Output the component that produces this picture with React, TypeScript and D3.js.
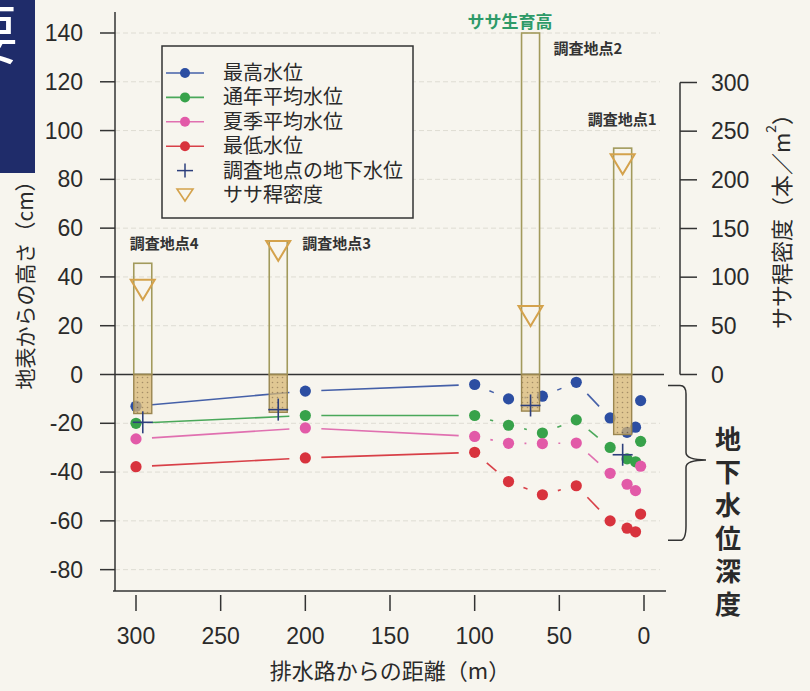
import React from 'react';
import * as d3 from 'd3';

// ---------- data ----------
const distances = [300, 200, 100, 80, 60, 40, 20, 10, 5, 2];
const maxLevel = [-13.0, -6.8, -4.1, -10.0, -8.9, -3.2, -17.8, -23.7, -21.6, -10.7];
const annualMean = [-20.0, -16.8, -16.8, -20.8, -24.0, -18.6, -29.9, -34.6, -35.8, -27.4];
const summerMean = [-26.4, -21.9, -25.4, -28.2, -28.3, -28.1, -40.5, -45.0, -47.6, -37.6];
const minLevel = [-37.8, -34.2, -31.9, -43.9, -49.3, -45.6, -60.0, -63.0, -64.5, -57.2];

const siteNames = ['調査地点1', '調査地点2', '調査地点3', '調査地点4'];
const siteDistances = [12.6, 67, 216, 296];
const sasaHeight = [92.8, 140, 54.7, 45.6];
const pipeDepth = [-24.6, -15.0, -15.5, -16.0];
const siteGroundwater = [-32.9, -12.7, -14.4, -19.6];
const culmDensity = [216, 60, 127, 87];

const yTicks = [140, 120, 100, 80, 60, 40, 20, 0, -20, -40, -60, -80];
const xTicks = [300, 250, 200, 150, 100, 50, 0];
const densityTicks = [0, 50, 100, 150, 200, 250, 300];

const seriesNames = ['最高水位', '通年平均水位', '夏季平均水位', '最低水位'];
const legendExtra = ['調査地点の地下水位', 'ササ稈密度'];

// ---------- styles ----------
const lineColors = ['#4560a8', '#4aa85a', '#e070b0', '#d84048'];
const dotColors = ['#2c4ea2', '#37a24a', '#e25aa8', '#d8333d'];
const CROSS = '#2d3f7c';
const TRI = '#d4a24c';
const OLIVE = '#a29a5c';
const TEXT = '#2a2a2a';
const BG = '#f7f5ee';
const FONT_JP = '"Noto Sans CJK JP", "Noto Sans", sans-serif';
const FONT_JP_TIGHT = '"DejaVu Sans", "Noto Sans CJK JP", sans-serif';
const FONT_NUM = '"Liberation Sans", Arial, "Noto Sans CJK JP", sans-serif';
const labelOffsets: [number, number][] = [
  [-35, -30],
  [23, 14],
  [24, 1.5],
  [-13, -21],
];

export default function App() {
  const W = 810, H = 691;
  const x = d3.scaleLinear().domain([300, 0]).range([136, 644]);
  const y = d3.scaleLinear().domain([0, 140]).range([374.5, 33]);
  const yd = d3.scaleLinear().domain([0, 300]).range([374.5, 82.5]);
  const axisX = 115, axisTop = 12, axisBottom = 591, plotRight = 664;
  const barW = 18;
  const gap = 16;

  const allSeries = [maxLevel, annualMean, summerMean, minLevel];

  const segments = (vals: number[], si: number) => {
    const out: any[] = [];
    for (let i = 0; i < vals.length - 1; i++) {
      const x0 = x(distances[i]), y0 = y(vals[i]);
      const x1 = x(distances[i + 1]), y1 = y(vals[i + 1]);
      const len = Math.hypot(x1 - x0, y1 - y0);
      if (len <= 2 * gap + 1) continue;
      const ux = (x1 - x0) / len, uy = (y1 - y0) / len;
      out.push(
        <line key={`s${si}-${i}`} x1={x0 + ux * gap} y1={y0 + uy * gap} x2={x1 - ux * gap} y2={y1 - uy * gap}
          stroke={lineColors[si]} strokeWidth={1.6}
          strokeDasharray={i >= 2 ? '40,6' : undefined} />
      );
    }
    return out;
  };

  const tri = (cx: number, cy: number, w: number, h: number) =>
    `M${cx - w / 2},${cy - h / 2}L${cx + w / 2},${cy - h / 2}L${cx},${cy + h / 2}Z`;

  const legendRows = [...seriesNames, ...legendExtra];
  const legY = (i: number) => 73 + i * 24.4;

  return (
    <svg width={W} height={H} style={{ position: 'absolute', left: 0, top: 0 }}
      xmlns="http://www.w3.org/2000/svg">
      <defs>
        <pattern id="dots" width="5" height="5" patternUnits="userSpaceOnUse">
          <rect width="5" height="5" fill="#d8b874" />
          <circle cx="2.5" cy="2.5" r="0.8" fill="#8a6a3a" />
        </pattern>
        <clipPath id="pageclip"><rect x="0" y="0" width="35" height="173" /></clipPath>
      </defs>
      <rect width={W} height={H} fill={BG} />

      {/* page header fragment */}
      <rect x={0} y={0} width={35} height={173} fill="#1f2c6a" />
      <g clipPath="url(#pageclip)">
        <text x={-46} y={58} fill="#fff" fontFamily={FONT_JP} fontSize={64}>要</text>
      </g>

      {/* grid */}
      {yTicks.filter(t => t !== 0).map(t => (
        <line key={`g${t}`} x1={axisX} x2={plotRight - 4} y1={y(t)} y2={y(t)}
          stroke="#dedcd3" strokeWidth={1} strokeDasharray="5,3" />
      ))}

      {/* zero line */}
      <line x1={axisX} x2={plotRight} y1={y(0)} y2={y(0)} stroke="#333" strokeWidth={1.5} />

      {/* left axis */}
      <line x1={axisX} x2={axisX} y1={axisTop} y2={axisBottom} stroke="#333" strokeWidth={1.5} />
      {yTicks.map(t => (
        <g key={`yt${t}`}>
          <line x1={axisX - 15} x2={axisX} y1={y(t)} y2={y(t)} stroke="#333" strokeWidth={1.5} />
          <text x={83} y={y(t)} textAnchor="end" dominantBaseline="central" fontFamily={FONT_NUM}
            fontSize={23} fill={TEXT}>{t}</text>
        </g>
      ))}
      <text transform={`translate(24,280) rotate(-90)`} textAnchor="middle" dominantBaseline="central"
        fontFamily={FONT_JP} fontSize={21} fill={TEXT}>地表からの高さ（cm）</text>

      {/* bottom axis */}
      <line x1={113} x2={666} y1={axisBottom} y2={axisBottom} stroke="#333" strokeWidth={1.5} />
      {xTicks.map(t => (
        <g key={`xt${t}`}>
          <line x1={x(t)} x2={x(t)} y1={axisBottom + 4} y2={axisBottom + 20} stroke="#333" strokeWidth={1.5} />
          <text x={x(t)} y={636} textAnchor="middle" dominantBaseline="central" fontFamily={FONT_NUM}
            fontSize={23} fill={TEXT}>{t}</text>
        </g>
      ))}
      <text x={390} y={669} textAnchor="middle" dominantBaseline="central" fontFamily={FONT_JP}
        fontSize={22} fill={TEXT}>排水路からの距離（m）</text>

      {/* right density axis */}
      <line x1={680} x2={680} y1={yd(0)} y2={yd(300)} stroke="#333" strokeWidth={1.5} />
      {densityTicks.map(t => (
        <g key={`dt${t}`}>
          <line x1={680} x2={697} y1={yd(t)} y2={yd(t)} stroke="#333" strokeWidth={1.5} />
          <text x={711} y={yd(t)} dominantBaseline="central" fontFamily={FONT_NUM}
            fontSize={23} fill={TEXT}>{t}</text>
        </g>
      ))}
      <text transform={`translate(780,216) rotate(-90)`} textAnchor="middle" dominantBaseline="central"
        fontFamily={FONT_JP} fontSize={22} fill={TEXT}>
        ササ稈密度（本／m<tspan baselineShift="super" fontSize={14}>2</tspan>）
      </text>

      {/* brace and depth label */}
      <path d={`M668,${y(-4.5)} L680,${y(-4.5)} Q686,${y(-4.5)} 686,${y(-8)} L686,${y(-32)} Q686,${y(-35)} 706,${y(-35)} Q686,${y(-35)} 686,${y(-38)} L686,${y(-62)} Q686,${y(-68)} 680,${y(-68)} L668,${y(-68)}`}
        fill="none" stroke="#333" strokeWidth={1.5} />
      <text fontFamily={FONT_JP_TIGHT} fontSize={26} fontWeight={700} fill={TEXT} textAnchor="middle">
        {'地下水位深度'.split('').map((c, i) => (
          <tspan key={i} x={728} y={449 + i * 33}>{c}</tspan>
        ))}
      </text>

      {/* green label */}
      <text x={510} y={20} textAnchor="middle" dominantBaseline="central" fontFamily={FONT_JP}
        fontSize={17} fontWeight={700} fill="#2e9a68">ササ生育高</text>

      {/* series lines */}
      {allSeries.map((vals, si) => segments(vals, si))}
      {/* series points */}
      {allSeries.map((vals, si) => vals.map((v, i) => (
        <circle key={`p${si}-${i}`} cx={x(distances[i])} cy={y(v)} r={5.6} fill={dotColors[si]} />
      )))}

      {/* sasa bars */}
      {siteDistances.map((d, i) => (
        <g key={`bar${i}`}>
          <rect x={x(d) - barW / 2} y={y(sasaHeight[i])} width={barW} height={y(0) - y(sasaHeight[i])}
            fill="none" stroke={OLIVE} strokeWidth={1.6} />
          <rect x={x(d) - barW / 2} y={y(0)} width={barW} height={y(pipeDepth[i]) - y(0)}
            fill="url(#dots)" fillOpacity={0.75} stroke="#9a8650" strokeWidth={1.4} />
        </g>
      ))}

      {/* groundwater crosses */}
      {siteDistances.map((d, i) => (
        <g key={`cr${i}`} stroke={CROSS} strokeWidth={1.6}>
          <line x1={x(d) - 10} x2={x(d) + 10} y1={y(siteGroundwater[i])} y2={y(siteGroundwater[i])} />
          <line x1={x(d)} x2={x(d)} y1={y(siteGroundwater[i]) - 11} y2={y(siteGroundwater[i]) + 11} />
        </g>
      ))}

      {/* density triangles */}
      {siteDistances.map((d, i) => (
        <path key={`tr${i}`} d={tri(x(d), yd(culmDensity[i]), 24, 20)} fill="none" stroke={TRI} strokeWidth={2} />
      ))}

      {/* site labels */}
      {siteDistances.map((d, i) => (
        <text key={`sl${i}`} x={x(d) + labelOffsets[i][0]} y={y(sasaHeight[i]) + labelOffsets[i][1]}
          dominantBaseline="central" fontFamily={FONT_JP} fontSize={15} fontWeight={700} fill="#333">
          {siteNames[i]}
        </text>
      ))}

      {/* legend */}
      <rect x={162} y={46} width={251} height={172} fill={BG} stroke="#333" strokeWidth={1.5} />
      {legendRows.map((name, i) => (
        <g key={`lg${i}`}>
          {i < 4 && (
            <>
              <line x1={166} x2={204} y1={legY(i)} y2={legY(i)} stroke={lineColors[i]} strokeWidth={1.6} />
              <circle cx={185} cy={legY(i)} r={5} fill={dotColors[i]} />
            </>
          )}
          {i === 4 && (
            <g stroke={CROSS} strokeWidth={1.5}>
              <line x1={177} x2={193} y1={legY(i)} y2={legY(i)} />
              <line x1={185} x2={185} y1={legY(i) - 7} y2={legY(i) + 7} />
            </g>
          )}
          {i === 5 && <path d={tri(185, legY(i), 16, 12)} fill="none" stroke={TRI} strokeWidth={1.6} />}
          <text x={223} y={legY(i)} dominantBaseline="central" fontFamily={FONT_JP_TIGHT} fontSize={20} fill={TEXT}>{name}</text>
        </g>
      ))}
    </svg>
  );
}
